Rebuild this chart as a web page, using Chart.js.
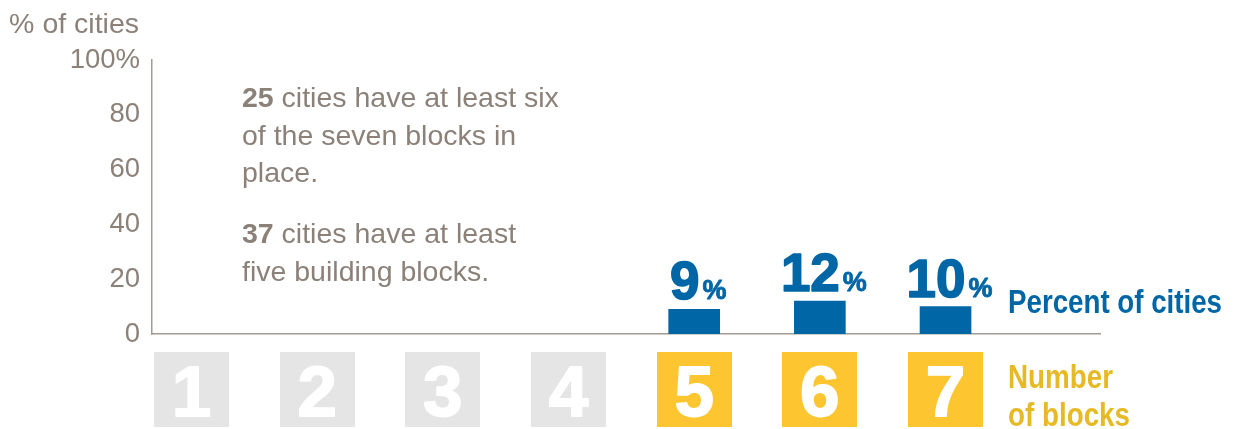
<!DOCTYPE html>
<html>
<head>
<meta charset="utf-8">
<script src="https://cdn.jsdelivr.net/npm/chart.js@4/dist/chart.umd.min.js"></script>
<style>
  html, body { margin: 0; padding: 0; background: #ffffff; }
  #wrap { position: relative; width: 1238px; height: 429px; }
</style>
</head>
<body>
<div id="wrap"><canvas id="c"></canvas></div>
<script>
// ---- data ----
const blocks = [1, 2, 3, 4, 5, 6, 7];
const percentOfCities = [null, null, null, null, 9, 12, 10];
const yTicks = [0, 20, 40, 60, 80, 100];
const yTitle = '% of cities';
const seriesLabel = 'Percent of cities';
const categoryTitle = ['Number', 'of blocks'];
const noteBold = ['25', '37'];
const noteLines = [
  [' cities have at least six', 'of the seven blocks in', 'place.'],
  [' cities have at least', 'five building blocks.']
];

// ---- styles ----
const FONT = '"Liberation Sans", Arial, Helvetica, sans-serif';
const GREY_TEXT = '#8b8178';
const AXIS = '#a39a92';
const BLUE = '#0066a6';
const YELLOW = '#fdc530';
const YELLOW_TEXT = '#e6b925';
const GREY_BOX = '#e5e5e5';

function heavyText(ctx, text, x, y, color, stroke) {
  ctx.fillStyle = color;
  ctx.strokeStyle = color;
  ctx.lineWidth = stroke;
  ctx.lineJoin = 'round';
  ctx.fillText(text, x, y);
  ctx.strokeText(text, x, y);
}

const decorations = {
  id: 'decorations',
  afterDatasetsDraw(chart) {
    const ctx = chart.ctx;
    const area = chart.chartArea;
    const xs = chart.scales.x;
    ctx.save();

    // axis title
    ctx.font = '28.5px ' + FONT;
    ctx.fillStyle = GREY_TEXT;
    ctx.textAlign = 'right';
    ctx.textBaseline = 'alphabetic';
    ctx.fillText(yTitle, area.left - 13, 33);

    // notes
    ctx.textAlign = 'left';
    const nx = area.left + 90;
    const noteBase = [[area.top + 47, area.top + 84.5, area.top + 122], [area.top + 183, area.top + 220.5]];
    noteLines.forEach((lines, p) => {
      lines.forEach((line, li) => {
        let x = nx;
        const y = noteBase[p][li];
        if (li === 0) {
          ctx.font = 'bold 28.5px ' + FONT;
          ctx.fillText(noteBold[p], x, y);
          x += ctx.measureText(noteBold[p]).width;
        }
        ctx.font = '28.5px ' + FONT;
        ctx.fillText(line, x, y);
      });
    });

    // value labels above bars
    const meta = chart.getDatasetMeta(0);
    meta.data.forEach((el, i) => {
      const v = percentOfCities[i];
      if (v === null || v === undefined) return;
      const num = String(v);
      ctx.font = 'bold 53px ' + FONT;
      const w1 = ctx.measureText(num).width;
      ctx.font = 'bold 27px ' + FONT;
      const w2 = ctx.measureText('%').width;
      const total = w1 + 3 + w2;
      const sx = el.x + 4 - total / 2;
      const by = el.y - 10;
      ctx.textAlign = 'left';
      ctx.font = 'bold 53px ' + FONT;
      heavyText(ctx, num, sx, by, BLUE, 1.6);
      ctx.font = 'bold 27px ' + FONT;
      heavyText(ctx, '%', sx + w1 + 3, by, BLUE, 0.8);
    });

    // block number boxes (category labels)
    blocks.forEach((b, i) => {
      const cx = xs.getPixelForValue(b);
      const on = percentOfCities[i] !== null && percentOfCities[i] !== undefined;
      ctx.fillStyle = on ? YELLOW : GREY_BOX;
      ctx.fillRect(Math.round(cx - 37.5), area.bottom + 18, 75, 75);
      ctx.font = 'bold 71px ' + FONT;
      ctx.textAlign = 'center';
      ctx.textBaseline = 'alphabetic';
      heavyText(ctx, String(b), cx, area.bottom + 82, '#ffffff', 1.8);
    });

    // right-hand labels (condensed via maxWidth)
    ctx.textAlign = 'left';
    ctx.font = 'bold 33px ' + FONT;
    ctx.fillStyle = BLUE;
    ctx.fillText(seriesLabel, area.right - 92, area.bottom - 21, 214);
    ctx.fillStyle = YELLOW_TEXT;
    ctx.fillText(categoryTitle[0], area.right - 92, area.bottom + 54, 105);
    ctx.fillText(categoryTitle[1], area.right - 92, area.bottom + 92, 122);

    ctx.restore();
  }
};

new Chart(document.getElementById('c'), {
  type: 'bar',
  data: {
    datasets: [{
      label: seriesLabel,
      data: blocks.map((b, i) => ({ x: b, y: percentOfCities[i] })),
      backgroundColor: BLUE,
      borderWidth: 0,
      barThickness: 51
    }]
  },
  options: {
    responsive: true,
    maintainAspectRatio: false,
    animation: false,
    layout: { padding: { left: 0, top: 60, right: 138, bottom: 95 } },
    plugins: { legend: { display: false }, tooltip: { enabled: false } },
    scales: {
      x: {
        type: 'linear',
        offset: false,
        min: 0.686,
        max: 8.229,
        grid: { display: false, drawTicks: false, offset: false },
        border: { display: true, color: AXIS, width: 1.5 },
        ticks: { display: false },
        afterFit(scale) { scale.height = 0; }
      },
      y: {
        min: 0,
        max: 100,
        grid: { display: false, drawTicks: false },
        border: { display: true, color: AXIS, width: 1.5 },
        afterBuildTicks(scale) { scale.ticks = yTicks.map(v => ({ value: v })); },
        ticks: {
          padding: 12,
          color: GREY_TEXT,
          font: { family: FONT, size: 27.5 },
          callback: v => (v === 100 ? v + '%' : String(v))
        },
        afterFit(scale) { scale.width = 152; }
      }
    }
  },
  plugins: [decorations]
});
</script>
</body>
</html>
